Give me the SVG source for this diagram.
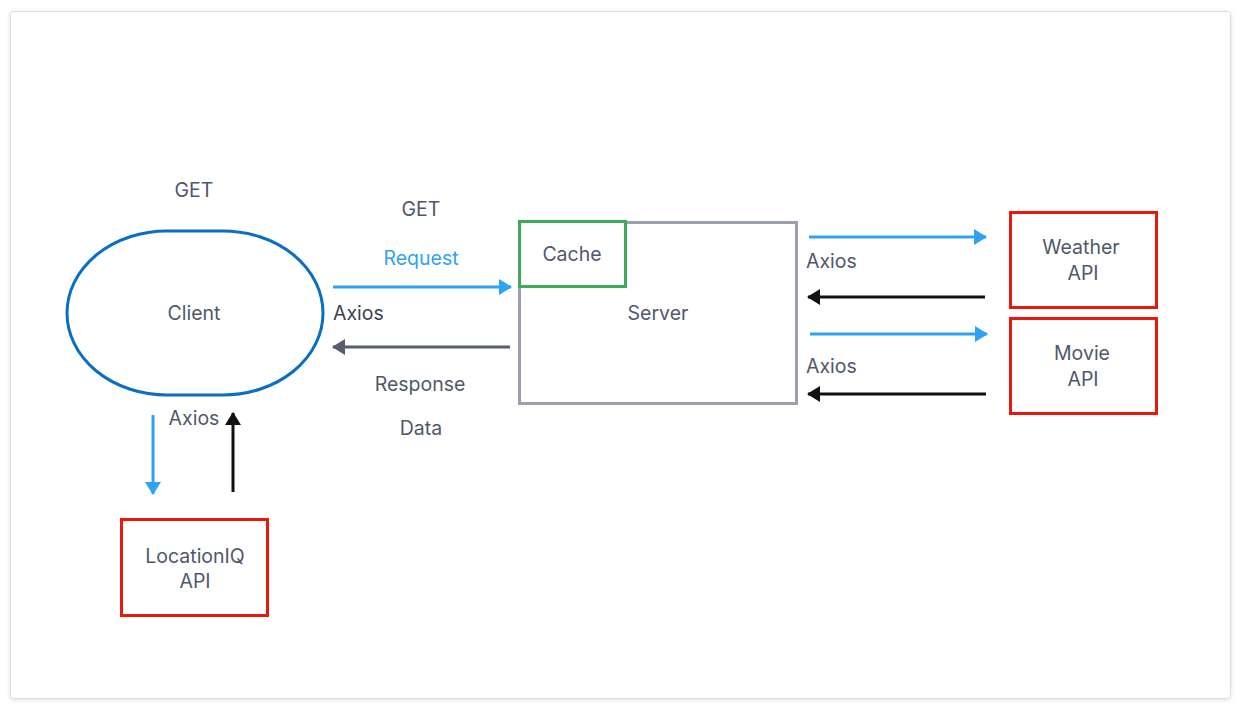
<svg xmlns="http://www.w3.org/2000/svg" width="1244" height="712" viewBox="0 0 1244 712">
<defs>
<filter id="sh" x="-5%" y="-5%" width="110%" height="110%"><feDropShadow dx="0" dy="1" stdDeviation="2" flood-color="#000" flood-opacity="0.12"/></filter>
<marker id="mb" viewBox="0 0 13 16" refX="12" refY="8" markerWidth="13" markerHeight="16" markerUnits="userSpaceOnUse" orient="auto"><path d="M0,0 L13,8 L0,16 z" fill="#2ea3f2"/></marker>
<marker id="mk" viewBox="0 0 13 16" refX="12" refY="8" markerWidth="13" markerHeight="16" markerUnits="userSpaceOnUse" orient="auto"><path d="M0,0 L13,8 L0,16 z" fill="#111"/></marker>
<marker id="mg" viewBox="0 0 13 16" refX="12" refY="8" markerWidth="13" markerHeight="16" markerUnits="userSpaceOnUse" orient="auto"><path d="M0,0 L13,8 L0,16 z" fill="#555d6e"/></marker>
</defs>
<style>
text{font-family:Inter,"Noto Sans","Liberation Sans",sans-serif;font-size:19.5px;fill:#4f586b;text-anchor:middle}
.l{text-anchor:start}
.api{fill:#fff;stroke:#e8180c;stroke-width:3}
.b{stroke:#2ea3f2;stroke-width:3;fill:none;marker-end:url(#mb)}
.k{stroke:#111;stroke-width:3;fill:none;marker-end:url(#mk)}
.g{stroke:#555d6e;stroke-width:3;fill:none;marker-end:url(#mg)}
</style>
<rect x="0" y="0" width="1244" height="712" fill="#fff"/>
<rect x="10.5" y="11.5" width="1220" height="687" rx="3" fill="#fff" stroke="#dcdcdc" filter="url(#sh)"/>
<g id="client">
<rect x="67" y="231" width="256" height="164" rx="100" ry="82" fill="#fff" stroke="#0a6fc2" stroke-width="3"/>
<text x="194" y="320">Client</text>
</g>
<g id="server">
<rect x="519.5" y="222.5" width="277" height="181" fill="#fff" stroke="#9aa0ac" stroke-width="3"/>
<text x="658" y="320">Server</text>
</g>
<g id="cache">
<rect x="519.5" y="221.5" width="106" height="65" fill="#fff" stroke="#3daa5a" stroke-width="3"/>
<text x="572" y="261">Cache</text>
</g>
<g id="weather">
<rect class="api" x="1010.5" y="212.5" width="146" height="95"/>
<text x="1081" y="254">Weather</text>
<text x="1083" y="280">API</text>
</g>
<g id="movie">
<rect class="api" x="1010.5" y="318.5" width="146" height="95"/>
<text x="1082" y="360">Movie</text>
<text x="1083" y="386">API</text>
</g>
<g id="locationiq">
<rect class="api" x="121.5" y="519.5" width="146" height="96"/>
<text x="195" y="563">LocationIQ</text>
<text x="195" y="588">API</text>
</g>
<g id="connectors">
<line class="b" x1="333" y1="287" x2="511" y2="287"/>
<line class="g" x1="510" y1="347" x2="333" y2="347"/>
<line class="b" x1="809" y1="237" x2="986" y2="237"/>
<line class="k" x1="985" y1="297" x2="808" y2="297"/>
<line class="b" x1="810" y1="334" x2="987" y2="334"/>
<line class="k" x1="986" y1="394" x2="808" y2="394"/>
<line class="b" x1="153" y1="415" x2="153" y2="494"/>
<line class="k" x1="233" y1="492" x2="233" y2="413"/>
</g>
<g id="labels">
<text x="194" y="197">GET</text>
<text x="421" y="216">GET</text>
<text x="421" y="265" style="fill:#2ea3f2">Request</text>
<text class="l" x="333" y="320" style="fill:#3b4150">Axios</text>
<text x="420" y="391">Response</text>
<text x="421" y="435">Data</text>
<text class="l" x="806" y="268">Axios</text>
<text class="l" x="806" y="373">Axios</text>
<text x="194" y="425">Axios</text>
</g>
</svg>
